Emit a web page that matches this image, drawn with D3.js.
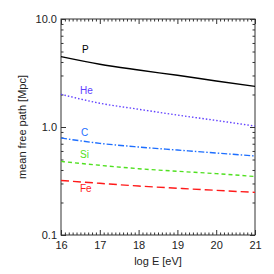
<!DOCTYPE html>
<meta charset="utf-8">
<style>
body { margin: 0; background: #fff; font-family: "Liberation Sans", Arial, sans-serif; }
.tick text { font-size: 11px; fill: #222; }
</style>
<script src="https://d3js.org/d3.v7.min.js"></script>
<body>
<div id="chart"></div>
<script>
// log E [eV] positions where curves were read
var logE = [16, 17, 18, 19, 20, 21];
// mean free path [Mpc] per nucleus
var pathP  = [4.48, 3.81, 3.37, 3.01, 2.67, 2.38];
var pathHe = [2.01, 1.66, 1.46, 1.29, 1.15, 1.02];
var pathC  = [0.79, 0.706, 0.653, 0.612, 0.574, 0.539];
var pathSi = [0.48, 0.442, 0.411, 0.389, 0.370, 0.348];
var pathFe = [0.32, 0.301, 0.284, 0.271, 0.259, 0.248];
var names  = ["P", "He", "C", "Si", "Fe"];
var xTicks = [16, 17, 18, 19, 20, 21];
var yTicks = [0.1, 1, 10];

var series = [
  {name: "P",  vals: pathP,  color: "#000000", dash: null,            lab: [82, 53]},
  {name: "He", vals: pathHe, color: "#6040ff", dash: "1.5,2",         lab: [80, 94]},
  {name: "C",  vals: pathC,  color: "#1e6fff", dash: "6,2,1.5,2",     lab: [81, 136]},
  {name: "Si", vals: pathSi, color: "#50e020", dash: "4,3",           lab: [80, 158]},
  {name: "Fe", vals: pathFe, color: "#ff1a1a", dash: "8,4",           lab: [80, 192]}
];

var W = 274, H = 274;
var margin = {top: 19, right: 19, bottom: 39, left: 61},
    width = W - margin.left - margin.right,
    height = H - margin.top - margin.bottom;

var svg = d3.select("#chart").append("svg")
    .attr("width", W).attr("height", H)
  .append("g")
    .attr("transform", "translate(" + margin.left + "," + margin.top + ")");

var x = d3.scaleLinear().domain([16, 21]).range([0, width]);
var y = d3.scaleLog().domain([0.1, 10]).range([height, 0]);

// minor ticks
var xMinor = d3.range(160, 211).map(function(d) { return d / 10; })
  .filter(function(d) { return xTicks.indexOf(d) < 0; });
var yMinor = [];
[0.1, 1].forEach(function(b) { for (var k = 2; k <= 9; k++) yMinor.push(b * k); });

var axisColor = "#333";
function styleAxis(g) {
  g.select(".domain").remove();
  g.selectAll("line").attr("stroke", axisColor);
}

// bottom / top
svg.append("g").attr("transform", "translate(0," + height + ")")
  .call(d3.axisBottom(x).tickValues(xTicks).tickSize(-5).tickPadding(6).tickFormat(d3.format("d")))
  .call(styleAxis);
svg.append("g").attr("transform", "translate(0," + height + ")")
  .call(d3.axisBottom(x).tickValues(xMinor).tickSize(-2.5).tickFormat(""))
  .call(styleAxis);
svg.append("g")
  .call(d3.axisTop(x).tickValues(xTicks).tickSize(-5).tickFormat(""))
  .call(styleAxis);
svg.append("g")
  .call(d3.axisTop(x).tickValues(xMinor).tickSize(-2.5).tickFormat(""))
  .call(styleAxis);

// left / right
svg.append("g")
  .call(d3.axisLeft(y).tickValues(yTicks).tickSize(-5).tickPadding(4).tickFormat(d3.format(".1f")))
  .call(styleAxis);
svg.append("g")
  .call(d3.axisLeft(y).tickValues(yMinor).tickSize(-2.5).tickFormat(""))
  .call(styleAxis);
svg.append("g").attr("transform", "translate(" + width + ",0)")
  .call(d3.axisRight(y).tickValues(yTicks).tickSize(-5).tickFormat(""))
  .call(styleAxis);
svg.append("g").attr("transform", "translate(" + width + ",0)")
  .call(d3.axisRight(y).tickValues(yMinor).tickSize(-2.5).tickFormat(""))
  .call(styleAxis);

// frame
svg.append("rect")
  .attr("width", width).attr("height", height)
  .attr("fill", "none").attr("stroke", axisColor).attr("stroke-width", 1);

var line = d3.line()
  .x(function(d, i) { return x(logE[i]); })
  .y(function(d) { return y(d); })
  .curve(d3.curveMonotoneX);

series.forEach(function(s) {
  svg.append("path")
    .datum(s.vals)
    .attr("fill", "none")
    .attr("stroke", s.color)
    .attr("stroke-width", 1.4)
    .attr("stroke-dasharray", s.dash)
    .attr("d", line);
  svg.append("text")
    .attr("x", s.lab[0] - margin.left)
    .attr("y", s.lab[1] - margin.top)
    .attr("fill", s.color)
    .style("font-size", "10px")
    .text(s.name);
});

// axis titles
svg.append("text")
  .attr("x", width / 2)
  .attr("y", height + 30)
  .attr("text-anchor", "middle")
  .attr("fill", "#222")
  .style("font-size", "11px")
  .text("log E [eV]");

svg.append("text")
  .attr("transform", "translate(" + (22 - margin.left) + "," + (height / 2) + ") rotate(-90)")
  .attr("text-anchor", "middle")
  .attr("dy", "0.35em")
  .attr("fill", "#222")
  .style("font-size", "11px")
  .text("mean free path [Mpc]");
</script>
</body>
